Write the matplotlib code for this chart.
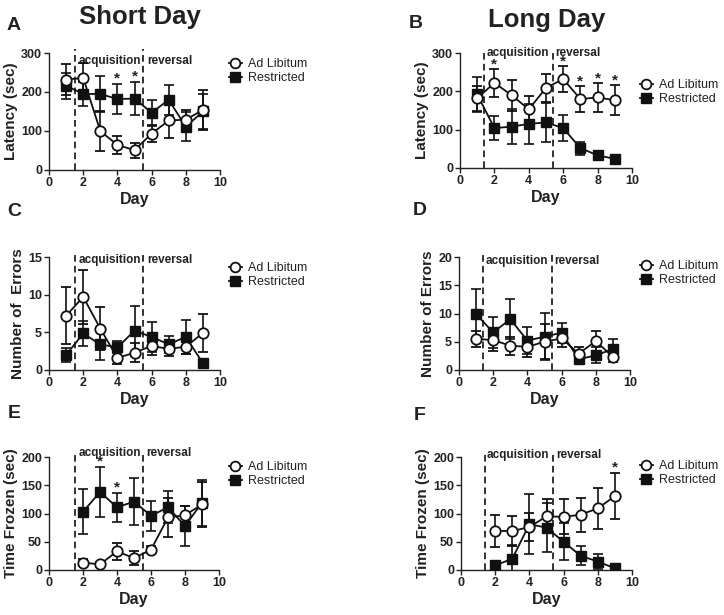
import matplotlib
matplotlib.use("Agg")
import matplotlib.pyplot as plt
from matplotlib.lines import Line2D
import numpy as np

plt.rcParams['font.family'] = ['Liberation Sans', 'DejaVu Sans']

days = [1, 2, 3, 4, 5, 6, 7, 8, 9]
days_e = [2, 3, 4, 5, 6, 7, 8, 9]

# Panel A: Short Day latency
a_adlib = [232, 236, 100, 64, 51, 93, 127, 129, 154]
a_adlib_err = [40, 38, 51, 22, 19, 22, 45, 25, 52]
a_restr = [216, 195, 195, 182, 183, 147, 180, 111, 150]
a_restr_err = [33, 30, 47, 39, 43, 33, 39, 37, 45]
a_stars = [4, 5]

# Panel B: Long Day latency
b_adlib = [182, 222, 190, 153, 209, 232, 180, 184, 177]
b_adlib_err = [33, 37, 40, 34, 37, 33, 35, 38, 40]
b_restr = [192, 104, 108, 115, 119, 104, 52, 33, 24]
b_restr_err = [45, 32, 45, 52, 50, 34, 17, 10, 5]
b_stars = [2, 6, 7, 8, 9]

# Panel C: Short Day errors
c_adlib = [7.2, 9.7, 5.5, 1.6, 2.3, 3.2, 2.8, 3.1, 4.9]
c_adlib_err = [3.8, 3.6, 2.9, 0.8, 1.3, 1.2, 0.9, 1.0, 2.5]
c_restr = [2.0, 4.85, 3.4, 3.0, 5.2, 4.4, 3.4, 4.4, 0.9]
c_restr_err = [0.9, 1.7, 2.1, 0.8, 3.3, 2.0, 1.1, 2.3, 0.0]

# Panel D: Long Day errors
d_adlib = [5.5, 5.3, 4.3, 4.1, 5.0, 5.6, 2.9, 5.1, 2.35]
d_adlib_err = [1.4, 2.0, 1.6, 1.8, 3.1, 1.5, 1.2, 1.8, 0.9]
d_restr = [9.9, 6.65, 9.0, 5.2, 5.9, 6.6, 1.9, 2.6, 3.7]
d_restr_err = [4.5, 2.7, 3.5, 2.4, 4.2, 1.8, 0.6, 1.4, 1.8]

# Panel E: Short Day time frozen
e_adlib = [13, 10, 33, 21, 36, 93, 97, 116]
e_adlib_err = [6, 5, 15, 12, 6, 35, 17, 40]
e_restr = [103, 138, 111, 121, 96, 111, 78, 119]
e_restr_err = [40, 45, 26, 42, 27, 28, 36, 41]
e_stars = [3, 4]

# Panel F: Long Day time frozen
f_adlib = [69, 69, 76, 95, 94, 98, 109, 131]
f_adlib_err = [29, 26, 25, 30, 31, 30, 37, 41]
f_restr = [8, 20, 81, 75, 50, 25, 15, 3]
f_restr_err = [0, 24, 53, 43, 33, 17, 13, 0]
f_stars = [9]

W, H = 724, 615
fig = plt.figure(figsize=(W / 100, H / 100), dpi=100)


def ax_at(x0, x1, ytop, ybot):
    return fig.add_axes([x0 / W, 1 - ybot / H, (x1 - x0) / W, (ybot - ytop) / H])


def style(ax, ymax, ystep, ylabel):
    ax.set_xlim(0, 10)
    ax.set_ylim(0, ymax)
    ax.set_xticks([0, 2, 4, 6, 8, 10])
    ax.set_yticks(np.arange(0, ymax + 0.01, ystep))
    for s in ['top', 'right']:
        ax.spines[s].set_visible(False)
    for s in ['left', 'bottom']:
        ax.spines[s].set_linewidth(1.0)
        ax.spines[s].set_color('#222222')
    ax.tick_params(direction='out', length=3.5, width=1.0, labelsize=9, pad=1.5,
                   colors='#222222')
    for lab in ax.get_xticklabels() + ax.get_yticklabels():
        lab.set_fontweight('bold')
    ax.set_ylabel(ylabel, fontsize=11, fontweight='bold', labelpad=2, color='#222222')
    ax.set_xlabel('Day', fontsize=11.5, fontweight='bold', labelpad=2, color='#222222')


def series(ax, x, adl, adle, res, rese):
    kw = dict(color='#111111', lw=1.3, capsize=3.5, elinewidth=1.2, capthick=1.2)
    ax.errorbar(x, res, yerr=rese, fmt='-s', ms=7, mfc='#111111', mec='#111111',
                zorder=3, **kw)
    ax.errorbar(x, adl, yerr=adle, fmt='-o', ms=7.5, mfc='white', mec='#111111',
                mew=1.3, zorder=4, **kw)


def phases(ax, v1, v2, ytxt, x_acq, x_rev):
    for v in (v1, v2):
        ax.axvline(v, ymin=0, ymax=1.03, ls=(0, (4, 2.5)), color='#111111', lw=1.2,
                   clip_on=False)
    ax.text(x_acq, ytxt, 'acquisition', fontsize=8.5, fontweight='bold', va='center',
            ha='left', color='#222222')
    ax.text(x_rev, ytxt, 'reversal', fontsize=8.5, fontweight='bold', va='center',
            ha='left', color='#222222')


def stars(ax, sx, x, vals, errs, off):
    for d in sx:
        i = list(x).index(d)
        ax.text(d, vals[i] + errs[i] + off, '*', ha='center', va='center',
                fontsize=11, fontweight='bold', color='#222222')


def legend(ax, px, py):
    h = [Line2D([], [], color='#111111', lw=1.3, marker='o', ms=7, mfc='white',
                mec='#111111', mew=1.3),
         Line2D([], [], color='#111111', lw=1.3, marker='s', ms=6.5, mfc='#111111',
                mec='#111111')]
    ax.legend(h, ['Ad Libitum', 'Restricted'], loc='upper left',
              bbox_to_anchor=(px / W, 1 - py / H), bbox_transform=fig.transFigure,
              frameon=False, fontsize=9, handlelength=1.0, handletextpad=0.5,
              borderpad=0, borderaxespad=0, labelspacing=0.15, labelcolor='#222222')


# A
axA = ax_at(49, 220, 53, 170)
series(axA, days, a_adlib, a_adlib_err, a_restr, a_restr_err)
style(axA, 300, 100, 'Latency (sec)')
phases(axA, 1.5, 5.5, 279, 1.75, 5.72)
stars(axA, a_stars, days, a_restr, a_restr_err, 14)
legend(axA, 229, 58)

# B
axB = ax_at(460, 632, 53, 168)
series(axB, days, b_adlib, b_adlib_err, b_restr, b_restr_err)
style(axB, 300, 100, 'Latency (sec)')
phases(axB, 1.42, 5.4, 300, 1.55, 5.55)
stars(axB, b_stars, days, b_adlib, b_adlib_err, 12)
legend(axB, 640, 79)

# C
axC = ax_at(49, 220, 257, 370)
series(axC, days, c_adlib, c_adlib_err, c_restr, c_restr_err)
style(axC, 15, 5, 'Number of  Errors')
phases(axC, 1.5, 5.5, 14.6, 1.75, 5.72)
legend(axC, 229, 262)

# D
axD = ax_at(459, 630, 257, 370)
series(axD, days, d_adlib, d_adlib_err, d_restr, d_restr_err)
style(axD, 20, 5, 'Number of Errors')
phases(axD, 1.42, 5.42, 19.3, 1.55, 5.55)
legend(axD, 640, 260)

# E
axE = ax_at(49, 219, 457, 570)
series(axE, days_e, e_adlib, e_adlib_err, e_restr, e_restr_err)
style(axE, 200, 50, 'Time Frozen (sec)')
phases(axE, 1.5, 5.5, 207, 1.72, 5.72)
stars(axE, e_stars, days_e, e_restr, e_restr_err, 9)
legend(axE, 229, 461)

# F
axF = ax_at(461, 632, 457, 570)
series(axF, days_e, f_adlib, f_adlib_err, f_restr, f_restr_err)
style(axF, 200, 50, 'Time Frozen (sec)')
phases(axF, 1.4, 5.4, 204, 1.5, 5.58)
stars(axF, f_stars, days_e, f_adlib, f_adlib_err, 10)
legend(axF, 640, 460)

# Titles and panel letters
fig.text(140 / W, 1 - 17 / H, 'Short Day', fontsize=18.5, fontweight='bold',
         ha='center', va='center', color='#222222')
fig.text(547 / W, 1 - 20 / H, 'Long Day', fontsize=18.5, fontweight='bold',
         ha='center', va='center', color='#222222')
for lab, px, py in [('A', 14, 26), ('B', 416, 24), ('C', 14, 212), ('D', 420, 211),
                    ('E', 14, 414), ('F', 420, 415)]:
    fig.text(px / W, 1 - py / H, lab, fontsize=14, fontweight='bold', ha='center',
             va='center', color='#222222')

fig.savefig('out.png', dpi=100)
